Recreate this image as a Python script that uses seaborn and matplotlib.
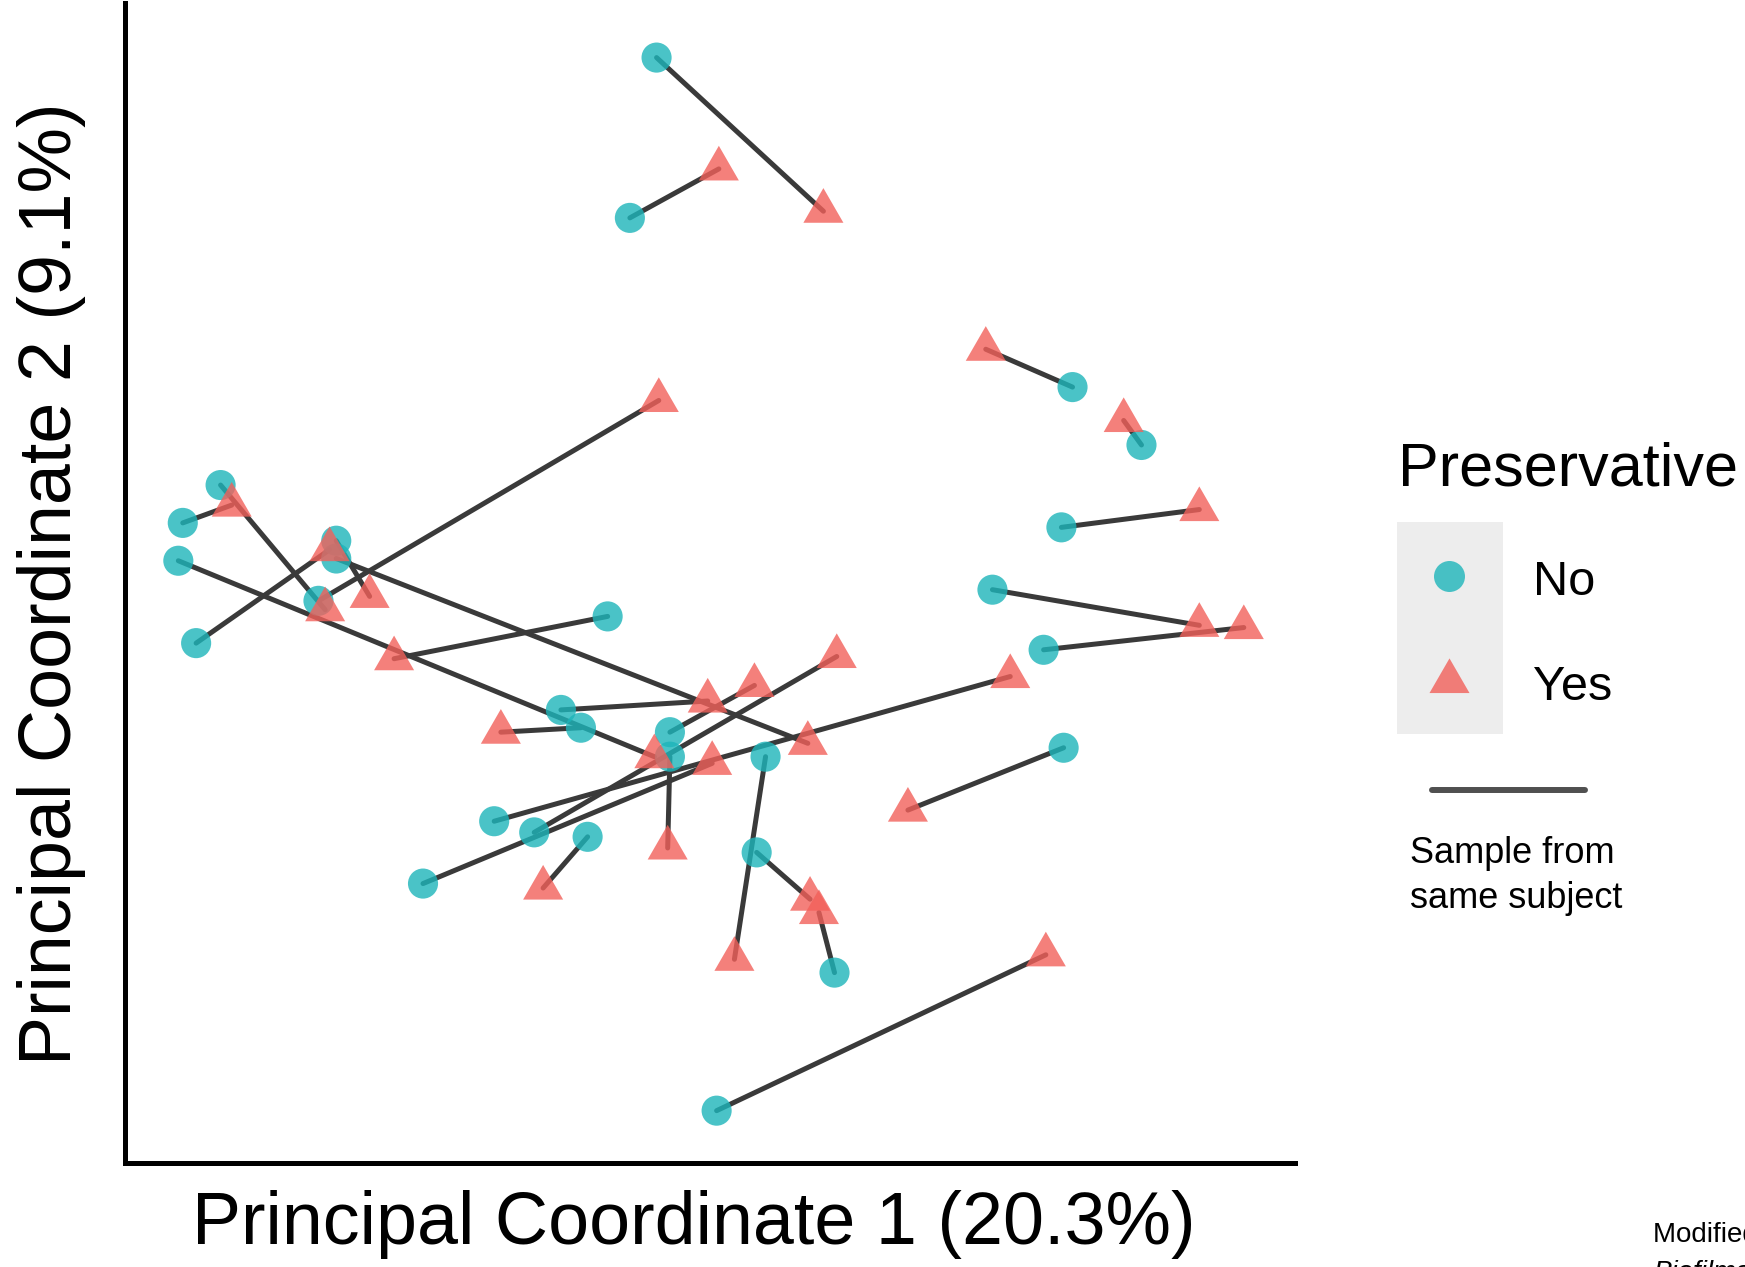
import matplotlib.pyplot as plt
import matplotlib.patches as mpatches
import numpy as np
import pandas as pd
import seaborn as sns

# =====================================================
# PCoA SCORES, ONE ENTRY PER SUBJECT
# =====================================================

subjects = list(range(1, 29))

pc1_no = [-0.025, -0.037, 0.162, 0.193, 0.157, 0.126, 0.149, -0.238, -0.221, -0.240,
          -0.232, -0.169, -0.169, -0.177, -0.047, -0.068, -0.059, -0.019, -0.080, -0.019,
          0.024, -0.098, -0.130, -0.056, 0.020, 0.055, 0.158, 0.002]
pc2_no = [0.274, 0.202, 0.126, 0.100, 0.063, 0.035, 0.008, 0.065, 0.082, 0.048,
          0.011, 0.057, 0.049, 0.030, 0.023, -0.019, -0.027, -0.029, -0.074, -0.040,
          -0.040, -0.069, -0.097, -0.076, -0.083, -0.137, -0.036, -0.199]

pc1_yes = [0.050, 0.003, 0.123, 0.185, 0.219, 0.219, 0.239, -0.216, -0.174, -0.026,
           -0.172, -0.154, 0.043, -0.024, -0.143, -0.002, -0.095, 0.019, 0.056, -0.020,
           0.010, 0.134, 0.000, -0.076, 0.044, 0.048, 0.088, 0.150]
pc2_yes = [0.205, 0.224, 0.143, 0.111, 0.071, 0.019, 0.018, 0.073, 0.026, -0.040,
           0.053, 0.032, -0.034, 0.120, 0.004, -0.015, -0.029, -0.008, 0.005, -0.081,
           -0.131, -0.004, -0.043, -0.099, -0.104, -0.110, -0.064, -0.129]

groups = ["No", "Yes"]
colors = {"No": "#1DB5BA", "Yes": "#F2605A"}

df = pd.DataFrame({
    "subject": subjects * 2,
    "Preservative": ["No"] * len(subjects) + ["Yes"] * len(subjects),
    "PC1": pc1_no + pc1_yes,
    "PC2": pc2_no + pc2_yes,
})

# equilateral triangle centred on its centroid (like ggplot shape 17)
tri = [(0, 1), (-0.866, -0.5), (0.866, -0.5), (0, 1)]

sns.set_style("white")
plt.rcParams["font.family"] = ["Liberation Sans", "DejaVu Sans"]
plt.rcParams["text.color"] = "black"

fig = plt.figure(figsize=(17.45, 12.67), dpi=100)
ax = fig.add_axes([0.0716, 0.0821, 0.6705, 0.9155])

# =====================================================
# PAIR LINES + POINTS
# =====================================================

sns.lineplot(
    data=df, x="PC1", y="PC2",
    units="subject", estimator=None, sort=False,
    color="#3a3a3a", lw=3.6, legend=False, ax=ax
)

sns.scatterplot(
    data=df, x="PC1", y="PC2",
    hue="Preservative", style="Preservative", size="Preservative",
    palette=colors, markers={"No": "o", "Yes": tri},
    sizes={"No": 470, "Yes": 1108},
    alpha=0.8, linewidth=0, legend=False, ax=ax, zorder=3
)

ax.set_xlim(-0.264, 0.262)
ax.set_ylim(-0.2225, 0.2985)
ax.set_xticks([])
ax.set_yticks([])
ax.set_xlabel("")
ax.set_ylabel("")
for side in ["top", "right"]:
    ax.spines[side].set_visible(False)
for side in ["left", "bottom"]:
    ax.spines[side].set_color("black")
    ax.spines[side].set_linewidth(3.6)

fig.text(694 / 1745, 1 - 1244 / 1267, "Principal Coordinate 1 (20.3%)",
         fontsize=53, ha="center", va="baseline")
fig.text(52 / 1745, 1 - 584 / 1267, "Principal Coordinate 2 (9.1%)",
         fontsize=53, rotation=90, ha="center", va="center")

# =====================================================
# LEGEND (drawn in pixel space)
# =====================================================

lax = fig.add_axes([0, 0, 1, 1])
lax.set_xlim(0, 1745)
lax.set_ylim(1267, 0)
lax.axis("off")

lax.text(1398, 486, "Preservative", fontsize=44, va="baseline")
lax.add_patch(mpatches.Rectangle((1397, 522), 106, 212, color="#ededed", lw=0))
lax.scatter([1449], [576], s=498, marker="o", color=colors["No"], alpha=0.8, lw=0)
lax.scatter([1449], [681], s=1108, marker=tri, color=colors["Yes"], alpha=0.8, lw=0)
lax.text(1533, 595, "No", fontsize=35, va="baseline")
lax.text(1533, 700, "Yes", fontsize=35, va="baseline")

lax.plot([1432, 1585], [790, 790], color="#505050", lw=4.3)
lax.text(1410, 863, "Sample from", fontsize=26, va="baseline")
lax.text(1410, 908, "same subject", fontsize=26, va="baseline")

# citation, cut off by the page edge as in the source slide
lax.text(1653, 1242, "Modified from", fontsize=20, va="baseline")
lax.text(1653, 1280, "Biofilms", fontsize=20, va="baseline", style="italic")

fig.savefig("out.png", dpi=100)
